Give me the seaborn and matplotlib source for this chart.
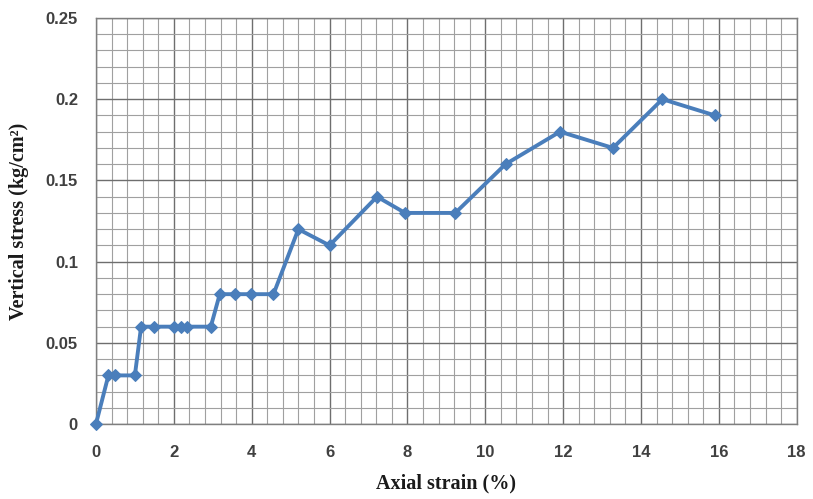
import matplotlib
matplotlib.use("Agg")
import matplotlib.pyplot as plt
from matplotlib.ticker import MultipleLocator
import seaborn as sns
import pandas as pd

strain = [0, 0.32, 0.5, 1.0, 1.16, 1.5, 2.0, 2.18, 2.35, 2.95,
          3.18, 3.57, 3.97, 4.56, 5.2, 6.0, 7.22, 7.94, 9.23, 10.52,
          11.92, 13.28, 14.55, 15.9]
stress = [0, 0.03, 0.03, 0.03, 0.06, 0.06, 0.06, 0.06, 0.06, 0.06,
          0.08, 0.08, 0.08, 0.08, 0.12, 0.11, 0.14, 0.13, 0.13, 0.16,
          0.18, 0.17, 0.20, 0.19]
x_ticks = [0, 2, 4, 6, 8, 10, 12, 14, 16, 18]
y_ticks = [0, 0.05, 0.1, 0.15, 0.2, 0.25]
y_tick_labels = ["0", "0.05", "0.1", "0.15", "0.2", "0.25"]

df = pd.DataFrame({"strain": strain, "stress": stress})

sns.set_style("white")
fig = plt.figure(figsize=(8.13, 4.99), dpi=100)
ax = fig.add_axes([0.118, 0.150, 0.862, 0.814])

sns.lineplot(data=df, x="strain", y="stress", ax=ax, color="#4a7ebb",
             linewidth=2.8, marker="D", markersize=6.5, markeredgecolor="#4a7ebb",
             sort=False, zorder=5, clip_on=False)

ax.set_xlim(0, 18)
ax.set_ylim(0, 0.25)
ax.set_xticks(x_ticks)
ax.set_yticks(y_ticks)
ax.set_yticklabels(y_tick_labels)
ax.xaxis.set_minor_locator(MultipleLocator(0.4))
ax.yaxis.set_minor_locator(MultipleLocator(0.01))
ax.grid(which="major", color="#6e6e6e", linewidth=1.0)
ax.grid(which="minor", color="#a0a0a0", linewidth=0.8)
ax.set_axisbelow(True)

for s in ax.spines.values():
    s.set_color("#7f7f7f")
    s.set_linewidth(1.0)

ax.tick_params(axis="both", which="major", direction="out", length=5,
               color="#7f7f7f", labelsize=12, labelcolor="#404040")
ax.tick_params(axis="x", which="major", pad=10)
ax.tick_params(axis="y", which="major", pad=8)
ax.tick_params(axis="x", which="minor", direction="out", length=3, color="#9f9f9f")
for lab in ax.get_xticklabels() + ax.get_yticklabels():
    lab.set_fontweight("bold")
    lab.set_family("Liberation Sans")

ax.set_xlabel("Axial strain (%)", fontsize=14.5, fontweight="bold",
              family="Liberation Serif", color="#1a1a1a", labelpad=10)
ax.set_ylabel("Vertical stress (kg/cm²)", fontsize=14.5, fontweight="bold",
              family="Liberation Serif", color="#1a1a1a", labelpad=12)

fig.savefig("out.png", dpi=100, facecolor="white")
